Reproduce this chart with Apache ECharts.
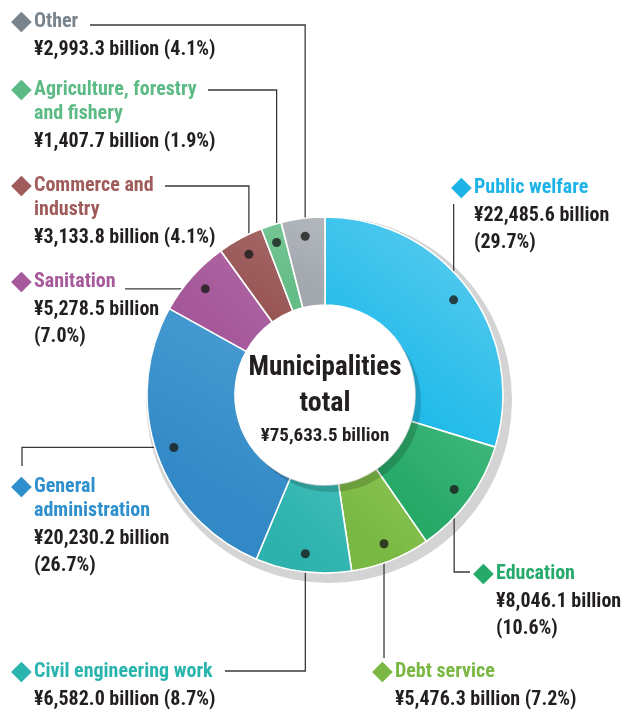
<!DOCTYPE html>
<html>
<head>
<meta charset="utf-8">
<script src="https://cdn.jsdelivr.net/npm/echarts@6/dist/echarts.min.js"></script>
<style>
html,body{margin:0;padding:0;background:#fff;}
#chart{width:621px;height:710px;}
</style>
</head>
<body>
<div id="chart"></div>
<script>
// ---- DATA ----
const categories = ['Public welfare', 'Education', 'Debt service', 'Civil engineering work', 'General administration', 'Sanitation', 'Commerce and industry', 'Agriculture, forestry and fishery', 'Other'];
const values = [22485.6, 8046.1, 5476.3, 6582.0, 20230.2, 5278.5, 3133.8, 1407.7, 2993.3];
const percents = [29.7, 10.6, 7.2, 8.7, 26.7, 7.0, 4.1, 1.9, 4.1];
const centerTitle = ['Municipalities', 'total'];
const totalValue = 75633.5;

// ---- STYLE / LAYOUT ----
const FONT = "'Liberation Sans Narrow','Roboto Condensed','DejaVu Sans Condensed','Liberation Sans',sans-serif";
const sliceColors = [
  ['#62cef0', '#22bbe9'],
  ['#40b97c', '#27a968'],
  ['#8cc453', '#79b843'],
  ['#3fbdb8', '#2db2ad'],
  ['#4a9fd3', '#3389c6'],
  ['#b067a5', '#a45799'],
  ['#a86a6a', '#985555'],
  ['#7ac898', '#64bc86'],
  ['#b3b8bd', '#a2a8ae']
];
const titleColors = ['#1db3e6', '#26aa6a', '#7ab743', '#2ab4ae', '#2e8fcc', '#a6599b', '#a05b5b', '#5cba85', '#78838c'];
const CX = 325, CY = 395, R0 = 90, R1 = 178, DOT_R = 160;

// label blocks: x = diamond left, tc = first title line centre, title lines, value split, leader line end
const labelLayouts = [
  {x: 451, tc: 188, lines: ['Public welfare'], split: true, type: 'v', end: [null, 204]},
  {x: 473, tc: 574, lines: ['Education'], split: true, type: 'v', end: [470, 572]},
  {x: 372, tc: 672, lines: ['Debt service'], split: false, type: 'v', end: [null, 658]},
  {x: 11, tc: 672, lines: ['Civil engineering work'], split: false, type: 'v', end: [225, 671]},
  {x: 11, tc: 487, lines: ['General', 'administration'], split: true, type: 'h', end: [22, 466]},
  {x: 11, tc: 282, lines: ['Sanitation'], split: true, type: 'h', end: [125, null]},
  {x: 11, tc: 186, lines: ['Commerce and', 'industry'], split: false, type: 'v', end: [165, 186]},
  {x: 11, tc: 90, lines: ['Agriculture, forestry', 'and fishery'], split: false, type: 'v', end: [208, 90]},
  {x: 11, tc: 22, lines: ['Other'], split: false, type: 'v', end: [90, 25]}
];
const T_LH = 24;
const FS = 20;

function fmt(v) {
  return '¥' + v.toLocaleString('en-US', {minimumFractionDigits: 1, maximumFractionDigits: 1}) + ' billion';
}

const cum = [];
let acc = 0;
values.forEach(v => { cum.push(acc + v / 2); acc += v; });

const pieData = categories.map((name, i) => {
  const L = labelLayouts[i];
  const parts = [];
  L.lines.forEach((ln, k) => {
    parts.push((k === 0 ? '{d|◆}' : '{sp| }') + '{t|' + ln + '}');
  });
  const vt = fmt(values[i]);
  const pt = '(' + percents[i].toFixed(1) + '%)';
  if (L.split) {
    parts.push('{sp1| }{v1|' + vt + '}');
    parts.push('{sp2| }{v2|' + pt + '}');
  } else {
    parts.push('{sp1| }{v1|' + vt + ' ' + pt + '}');
  }
  return {
    name: name,
    value: values[i],
    itemStyle: {
      color: new echarts.graphic.LinearGradient(1, 0, 0, 1, [
        {offset: 0, color: sliceColors[i][0]},
        {offset: 0.7, color: sliceColors[i][1]},
        {offset: 1, color: sliceColors[i][1]}
      ])
    },
    label: {
      formatter: parts.join('\n'),
      rich: {
        d: {fontFamily: 'DejaVu Sans', fontSize: 27, color: titleColors[i], width: 23, lineHeight: T_LH},
        sp: {width: 23, lineHeight: T_LH},
        sp1: {width: 23, lineHeight: 32},
        sp2: {width: 23, lineHeight: 22},
        t: {fontFamily: FONT, fontWeight: 'bold', fontSize: FS, color: titleColors[i], lineHeight: T_LH},
        v1: {fontFamily: FONT, fontWeight: 'bold', fontSize: FS, color: '#231f20', lineHeight: 32},
        v2: {fontFamily: FONT, fontWeight: 'bold', fontSize: FS, color: '#231f20', lineHeight: 22}
      }
    }
  };
});

const chart = echarts.init(document.getElementById('chart'), null, {renderer: 'canvas'});

const option = {
  animation: false,
  backgroundColor: '#ffffff',
  polar: {center: [CX, CY], radius: R1},
  angleAxis: {type: 'value', min: 0, max: acc, startAngle: 90, clockwise: true, show: false},
  radiusAxis: {type: 'value', min: 0, max: R1, show: false},
  series: [
    // drop shadow ring
    {
      type: 'pie', silent: true, z: 1,
      center: [CX + 4, CY + 5], radius: [R0, R1 + 5],
      startAngle: 90, label: {show: false}, labelLine: {show: false},
      data: [{value: 1, itemStyle: {color: '#d4d4d4'}}]
    },
    // main ring
    {
      type: 'pie', z: 2,
      center: [CX, CY], radius: [R0, R1],
      startAngle: 90, clockwise: true,
      avoidLabelOverlap: false,
      itemStyle: {borderColor: '#ffffff', borderWidth: 1.6},
      label: {show: true, position: 'outside'},
      labelLine: {show: true, lineStyle: {color: '#3a3a3a', width: 1.3}},
      labelLayout: function (params) {
        const i = params.dataIndex;
        const L = labelLayouts[i];
        let dot;
        if (params.labelLinePoints && params.labelLinePoints[0]) {
          const p = params.labelLinePoints[0];
          const k = DOT_R / R1;
          dot = [CX + (p[0] - CX) * k, CY + (p[1] - CY) * k];
        } else {
          const a = (cum[i] / acc) * 2 * Math.PI;
          dot = [CX + DOT_R * Math.sin(a), CY - DOT_R * Math.cos(a)];
        }
        let corner, fin;
        if (L.type === 'v') {
          corner = [dot[0], L.end[1]];
          fin = [L.end[0] == null ? dot[0] : L.end[0], L.end[1]];
        } else {
          corner = [L.end[0], dot[1]];
          fin = [L.end[0], L.end[1] == null ? dot[1] : L.end[1]];
        }
        return {
          x: L.x, y: L.tc - T_LH / 2,
          align: 'left', verticalAlign: 'top',
          labelLinePoints: [dot, corner, fin]
        };
      },
      data: pieData
    },
    // inner hole shadow
    {
      type: 'pie', silent: true, z: 3,
      center: [CX + 6, CY + 7], radius: [0, R0],
      label: {show: false}, labelLine: {show: false},
      data: [{value: 1, itemStyle: {color: 'rgba(0,0,0,0.16)'}}]
    },
    // white hole
    {
      type: 'pie', silent: true, z: 4,
      center: [CX, CY], radius: [0, R0],
      label: {show: false}, labelLine: {show: false},
      data: [{value: 1, itemStyle: {color: '#ffffff'}}]
    },
    // dots
    {
      type: 'scatter', coordinateSystem: 'polar', z: 5, silent: true,
      symbol: 'circle', symbolSize: 9,
      itemStyle: {color: '#1b1b1b'},
      data: cum.map(c => [DOT_R, c])
    }
  ],
  graphic: [
    {type: 'text', x: CX, y: 368, z: 10, style: {text: centerTitle[0], align: 'center', verticalAlign: 'middle', font: 'bold 27px ' + FONT, fill: '#231f20'}},
    {type: 'text', x: CX, y: 404, z: 10, style: {text: centerTitle[1], align: 'center', verticalAlign: 'middle', font: 'bold 28px ' + FONT, fill: '#231f20'}},
    {type: 'text', x: CX, y: 436, z: 10, style: {text: fmt(totalValue), align: 'center', verticalAlign: 'middle', font: 'bold 19px ' + FONT, fill: '#231f20'}}
  ]
};
chart.setOption(option);
</script>
</body>
</html>
